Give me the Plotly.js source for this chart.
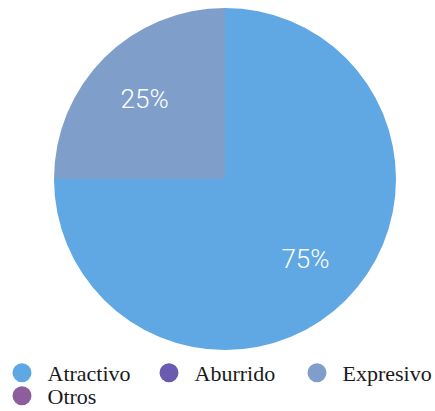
<!DOCTYPE html>
<html><head><meta charset="utf-8">
<script src="https://cdn.plot.ly/plotly-3.0.1.min.js"></script>
<style>html,body{margin:0;padding:0;background:#fff}</style>
</head><body>
<div id="chart" style="width:435px;height:411px"></div>
<script>
const labels = ["Atractivo", "Aburrido", "Expresivo", "Otros"];
const values = [75, 0, 25, 0];
const colors = ["#5FA8E3", "#6B5BAE", "#7F9FCA", "#8C5E9E"];

const serif = "Liberation Serif, Times New Roman, DejaVu Serif, serif";
const pieDomain = {x: [54/435, 396/435], y: [61/411, 403/411]};
const traces = [{
  type: "pie",
  labels: labels,
  values: values,
  sort: false,
  direction: "clockwise",
  rotation: 0,
  marker: {colors: colors, line: {width: 0}},
  textinfo: "none",
  showlegend: false,
  domain: pieDomain
}, {
  // transparent ring carrying the percentage labels
  type: "pie",
  labels: labels,
  values: values,
  sort: false,
  direction: "clockwise",
  rotation: 0,
  hole: 0.33,
  marker: {colors: labels.map(() => "rgba(0,0,0,0)"), line: {width: 0}},
  texttemplate: "%{percent:.0%}",
  textposition: "inside",
  insidetextorientation: "horizontal",
  insidetextfont: {color: "#ffffff", size: 26, family: "Roboto", weight: 300},
  showlegend: false,
  domain: pieDomain
}];

const legendPos = [[2, 373], [149, 373], [297, 373], [2, 396]];
const layout = {
  width: 435, height: 411,
  margin: {l: 0, r: 0, t: 0, b: 0, autoexpand: false},
  paper_bgcolor: "#fff", plot_bgcolor: "#fff",
  font: {family: serif, color: "#1a1a1a"},
  xaxis: {visible: false}, yaxis: {visible: false},
  showlegend: true
};
labels.forEach((l, i) => {
  const key = i === 0 ? "legend" : "legend" + (i + 1);
  traces.push({
    type: "scatter", mode: "markers", x: [null], y: [null], name: "\u00a0" + l,
    marker: {symbol: "circle", size: 16, color: colors[i], line: {width: 3, color: colors[i]}},
    showlegend: true, hoverinfo: "skip", legend: key
  });
  layout[key] = {
    orientation: "h", xref: "paper", yref: "paper",
    x: legendPos[i][0] / 435, xanchor: "left",
    y: 1 - (legendPos[i][1] - 21) / 411, yanchor: "top",
    font: {family: serif, size: 22, color: "#1a1a1a"},
    bgcolor: "rgba(0,0,0,0)", itemsizing: "trace"
  };
});
Plotly.newPlot("chart", traces, layout, {displayModeBar: false, staticPlot: true});
</script>
</body></html>
